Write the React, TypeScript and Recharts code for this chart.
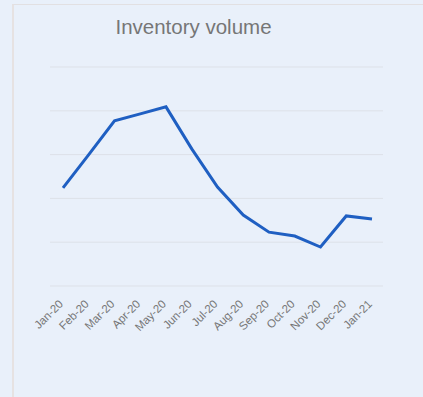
import React from "react";
import { LineChart, Line, XAxis, YAxis, CartesianGrid } from "recharts";

const months = ["Jan-20","Feb-20","Mar-20","Apr-20","May-20","Jun-20","Jul-20","Aug-20","Sep-20","Oct-20","Nov-20","Dec-20","Jan-21"];
const volume = [2.24, 3.0, 3.77, 3.93, 4.09, 3.13, 2.26, 1.62, 1.23, 1.14, 0.89, 1.6, 1.53];
const yTicks = [0, 1, 2, 3, 4, 5];
const title = "Inventory volume";

const data = months.map((m, i) => ({ month: m, volume: volume[i] }));

const MonthTick = (props: any) => {
  const { x, y, payload } = props;
  return (
    <g transform={`translate(${x},${y})`}>
      <text x={-7} y={0} dy="0.71em" textAnchor="end" fill="#767676" fontSize={11.5} transform="rotate(-45)">
        {payload.value}
      </text>
    </g>
  );
};

export default function App() {
  return (
    <div style={{ position: "fixed", left: 0, top: 0, width: 423, height: 397, background: "#e9f0fa", overflow: "hidden", fontFamily: "'Liberation Sans', Arial, sans-serif" }}>
      <div style={{ position: "absolute", left: 12, top: 4, width: 411, height: 393, borderTop: "1px solid #e2e0e2", borderLeft: "2px solid #e6e2e2", boxSizing: "border-box" }} />
      <div style={{ position: "absolute", left: 0, width: 387, top: 15, textAlign: "center", fontSize: 20.5, color: "#767676" }}>{title}</div>
      <div style={{ position: "absolute", left: 0, top: 0 }}>
        <LineChart width={423} height={397} data={data} margin={{ top: 67, right: 40, bottom: 0, left: 50 }}>
          <CartesianGrid vertical={false} stroke="#dde1e8" strokeWidth={1} />
          <XAxis
            dataKey="month"
            height={111}
            padding={{ left: 13, right: 11 }}
            axisLine={false}
            tickLine={false}
            interval={0}
            tick={<MonthTick />}
          />
          <YAxis hide domain={[0, 5]} ticks={yTicks} />
          <Line type="linear" dataKey="volume" stroke="#1f5fc2" strokeWidth={3} dot={false} isAnimationActive={false} />
        </LineChart>
      </div>
    </div>
  );
}
